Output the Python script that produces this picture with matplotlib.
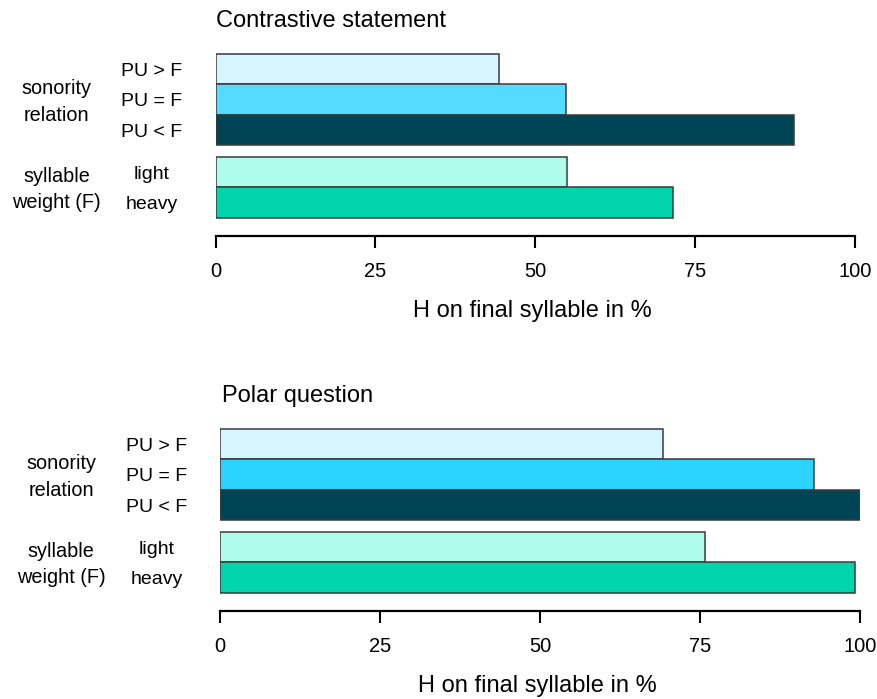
import matplotlib
matplotlib.use("Agg")
import matplotlib.pyplot as plt

plt.rcParams['font.family'] = ['Liberation Sans', 'DejaVu Sans']

categories = ["PU > F", "PU = F", "PU < F", "light", "heavy"]
group_labels = ["sonority\nrelation", "syllable\nweight (F)"]
titles = ["Contrastive statement", "Polar question"]
xlabel = "H on final syllable in %"
tick_values = [0, 25, 50, 75, 100]
tick_labels = ["0", "25", "50", "75", "100"]

statement_values = [44.3, 54.8, 90.5, 55.0, 71.5]
question_values = [69.2, 92.7, 100.0, 75.8, 99.2]

statement_colors = ["#D5F5FF", "#55DBFF", "#004455", "#ADFCEC", "#00D4AD"]
question_colors = ["#D5F5FF", "#2DD3FF", "#004455", "#ADFCEC", "#00D4AD"]

W, H = 878, 699
fig = plt.figure(figsize=(W / 100, H / 100), dpi=100)

ypos = [0, 1, 2, 3.4, 4.4]
unit = 30.3  # px per bar


def fx(x):
    return x / W


def fy(y):
    return 1 - y / H


def panel(left_px, right_px, spine_px, values, colors, title, title_x):
    ax = fig.add_axes([fx(left_px), fy(spine_px), (right_px - left_px) / W, 195.7 / H])
    ax.barh(ypos, values, height=1.0, color=colors, edgecolor="#3a3a3a",
            linewidth=1.1, align="center")
    ax.set_xlim(0, 100)
    ax.set_ylim(5.5, -0.96)
    for s in ["top", "right", "left"]:
        ax.spines[s].set_visible(False)
    ax.spines["bottom"].set_linewidth(1.6)
    ax.spines["bottom"].set_bounds(0, 100)
    ax.set_yticks([])
    ax.set_xticks(tick_values)
    ax.set_xticklabels(tick_labels, fontsize=14.5)
    ax.tick_params(axis="x", direction="out", length=8.6, width=1.5, pad=10.5,
                   colors="black")
    ax.patch.set_alpha(0)
    # xlabel
    fig.text(fx((left_px + right_px) / 2 - 3), fy(spine_px + 75), xlabel,
             ha="center", va="center", fontsize=17)
    # title
    fig.text(fx(title_x), fy(spine_px - 215), title, ha="left", va="center",
             fontsize=17)
    # category labels
    first_center = spine_px - 5.5 * unit
    for yp, lab in zip(ypos, categories):
        yc = first_center + yp * unit + 2.5
        fig.text(fx(left_px - 64), fy(yc), lab, ha="center", va="center",
                 fontsize=14)
    # group labels
    g1 = first_center + 1 * unit + 2.5
    g2 = first_center + 3.9 * unit + 2.5
    fig.text(fx(left_px - 159), fy(g1), group_labels[0], ha="center",
             va="center", fontsize=14.3, linespacing=1.5)
    fig.text(fx(left_px - 159), fy(g2), group_labels[1], ha="center",
             va="center", fontsize=14.3, linespacing=1.5)
    return ax


panel(215.7, 854.7, 235.7, statement_values, statement_colors, titles[0], 216)
panel(220.3, 860.3, 610.7, question_values, question_colors, titles[1], 222)

fig.savefig("out.png", dpi=100)
